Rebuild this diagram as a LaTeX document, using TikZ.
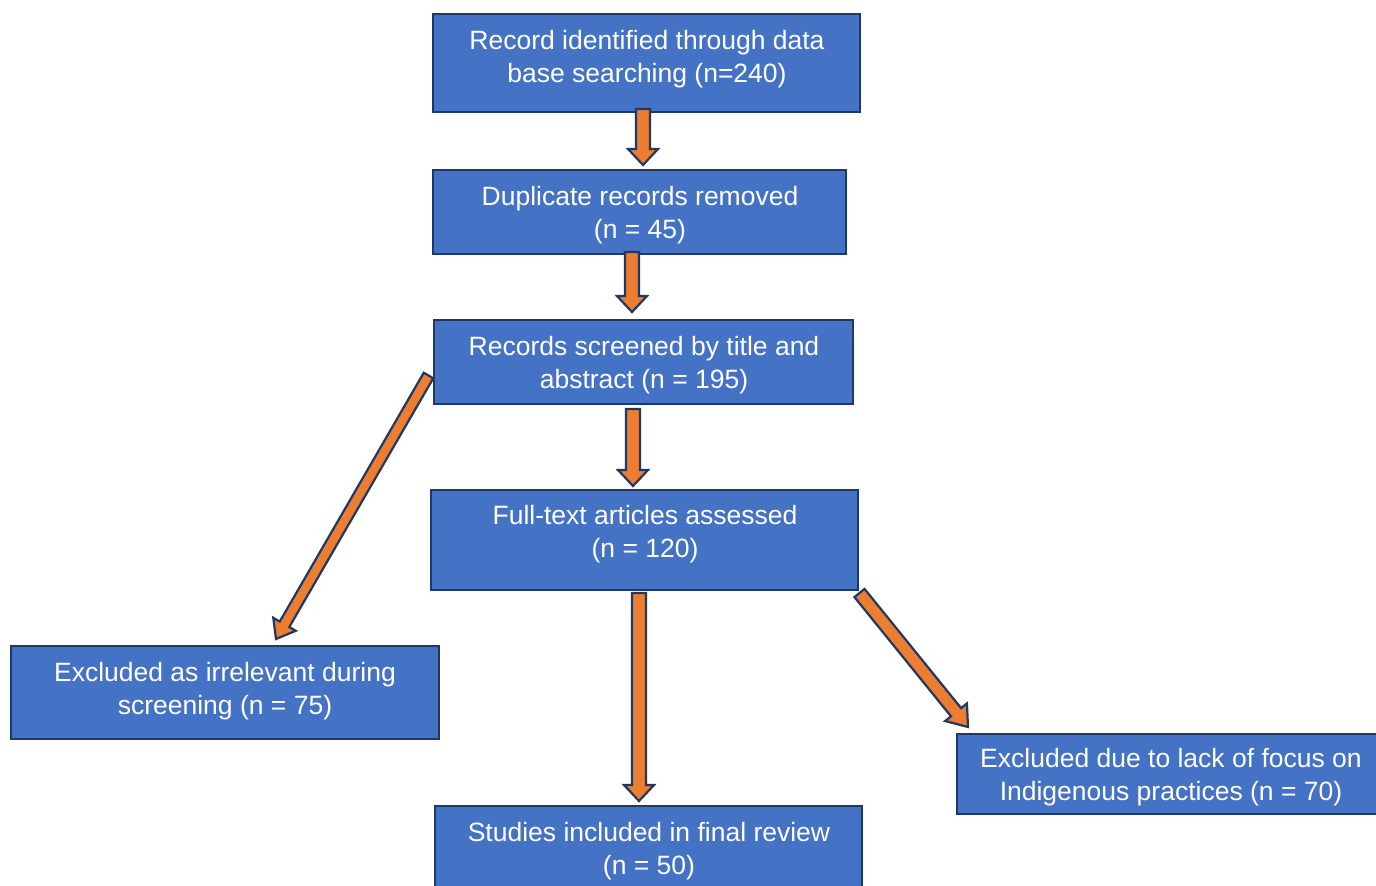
\documentclass[tikz,border=0pt]{standalone}
\usepackage{fontspec}
\setmainfont{Liberation Sans}
\usetikzlibrary{calc}
\definecolor{boxfill}{HTML}{4472C4}
\definecolor{boxline}{HTML}{1F3864}
\definecolor{arrfill}{HTML}{ED7D31}
\tikzset{
  box/.style={draw=boxline, fill=boxfill, line width=2.5pt, inner sep=0pt, anchor=north west, outer sep=0pt},
  txt/.style={text=white, align=center, inner sep=0pt, font=\fontsize{26.5}{33}\selectfont},
  arr/.style={draw=boxline, fill=arrfill, line width=2.2pt, line join=miter},
}
\newcommand\blockarrow[5]{%
  \coordinate (ba-h) at ($(#2)!#5!(#1)$);
  \draw[arr] ($(#1)!#3!90:(#2)$) -- ($(ba-h)!#3!90:(#2)$) -- ($(ba-h)!#4!90:(#2)$) -- (#2)
    -- ($(ba-h)!#4!-90:(#2)$) -- ($(ba-h)!#3!-90:(#2)$) -- ($(#1)!#3!-90:(#2)$) -- cycle;}
\begin{document}
\begin{tikzpicture}[x=1pt,y=-1pt]
\useasboundingbox (0,0) rectangle (1376,886);
% boxes
\node[box, minimum width=427pt, minimum height=98pt] (b1) at (433,14) {};
\node[box, minimum width=413pt, minimum height=84pt] (b2) at (433,170) {};
\node[box, minimum width=419pt, minimum height=84pt] (b3) at (434,320) {};
\node[box, minimum width=427pt, minimum height=100pt] (b4) at (431,490) {};
\node[box, minimum width=428pt, minimum height=93pt] (b5) at (11,646) {};
\node[box, minimum width=424pt, minimum height=80pt] (b6) at (957,734) {};
\node[box, minimum width=427pt, minimum height=95pt] (b7) at (435,806) {};
% texts
\node[txt] (t1) at (647,59) {Record identified through data\\base searching (n=240)};
\node[txt] (t2) at (640,215) {Duplicate records removed\\(n = 45)};
\node[txt] (t3) at (644,365) {Records screened by title and\\abstract (n = 195)};
\node[txt] (t4) at (645,534) {Full-text articles assessed\\(n = 120)};
\node[txt] (t5) at (225,691) {Excluded as irrelevant during\\screening (n = 75)};
\node[txt] (t6) at (1171,777) {Excluded due to lack of focus on\\Indigenous practices (n = 70)};
\node[txt] (t7) at (649,851) {Studies included in final review\\(n = 50)};
% arrow end points
\coordinate (a1s) at ($(b1.south)+(-3.5,-3)$);
\coordinate (a1e) at ($(b2.north)+(3.5,-5)$);
\coordinate (a2s) at ($(b2.south)+(-7.5,-2)$);
\coordinate (a2e) at ($(b3.north)+(-11.5,-8)$);
\coordinate (a3s) at ($(b3.south)+(-10.5,5)$);
\coordinate (a3e) at ($(b4.north)+(-11.5,-4)$);
\coordinate (a4s) at ($(b4.south)+(-5.5,3)$);
\coordinate (a4e) at ($(b7.north)+(-9.5,-5)$);
\coordinate (a5s) at ($(b3.west)+(-5.5,13.5)$);
\coordinate (a5e) at ($(b5.north)+(51,-7)$);
\coordinate (a6s) at ($(b4.south east)+(1.5,3)$);
\coordinate (a6e) at ($(b6.north west)+(11,-7)$);
\blockarrow{a1s}{a1e}{7pt}{15pt}{16pt}
\blockarrow{a2s}{a2e}{7pt}{15pt}{16pt}
\blockarrow{a3s}{a3e}{7pt}{15pt}{16pt}
\blockarrow{a4s}{a4e}{7pt}{15pt}{16pt}
\blockarrow{a5s}{a5e}{5.5pt}{13pt}{17pt}
\blockarrow{a6s}{a6e}{6.5pt}{14pt}{19pt}
\end{tikzpicture}
\end{document}
